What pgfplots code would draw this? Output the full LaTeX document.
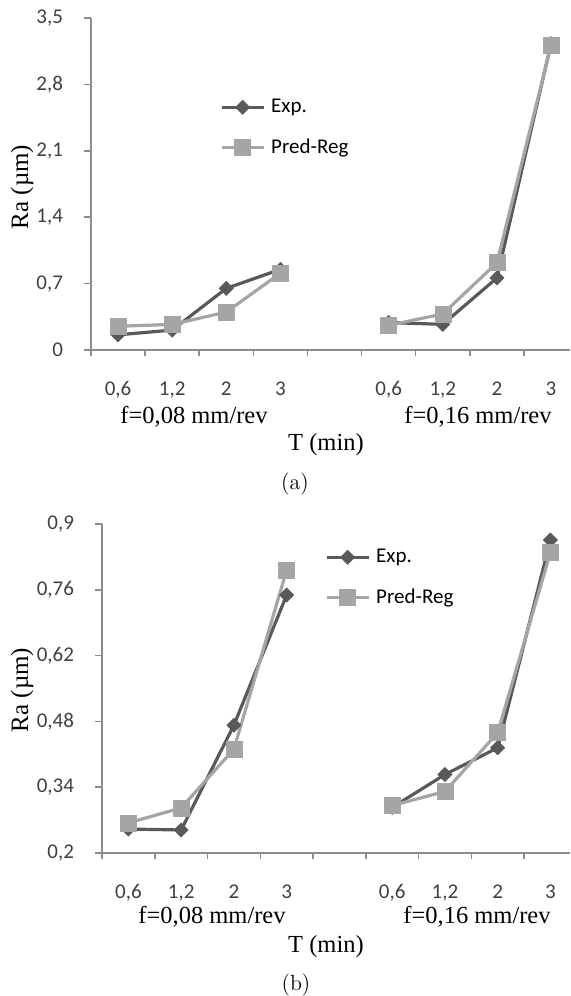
\documentclass[border=0pt]{standalone}
\usepackage{pgfplots}
\pgfplotsset{compat=1.18}
\usepackage{fontspec}
\newfontfamily\carlito{Carlito}
\newfontfamily\tnr{Liberation Serif}
\definecolor{expc}{HTML}{595959}
\definecolor{predc}{HTML}{A5A5A5}
\definecolor{axc}{HTML}{8C8C8C}
\definecolor{tickc}{HTML}{404040}
\pgfplotsset{
  mystyle/.style={
    scale only axis,
    axis lines*=left,
    axis line style={axc, line width=0.75pt, -},
    xmin=0.5,
    xtick={1,2,3,4,6,7,8,9},
    xticklabels={{0,6},{1,2},2,3,{0,6},{1,2},2,3},
    minor xtick={0.5,1.5,2.5,3.5,4.5,5.5,6.5,7.5,8.5},
    major x tick style={draw=none},
    minor x tick style={axc, line width=0.75pt},
    minor tick length=3pt,
    major tick length=3.5pt,
    tick align=outside,
    ytick style={axc, line width=0.75pt},
    ticklabel style={font=\carlito\fontsize{10.5}{12}\selectfont, text=tickc},
    /pgf/number format/assume math mode=true,
    /pgf/number format/use comma,
    /pgf/number format/fixed,
    /pgf/number format/precision=2,
    xticklabel style={anchor=base, yshift=-19pt},
    yticklabel style={anchor=east, xshift=-7pt},
    unbounded coords=jump,
    clip=false,
    legend style={draw=none, fill=none, inner sep=0pt, outer sep=0pt, anchor=north west,
      row sep=11.5pt, column sep=3pt, font=\carlito\fontsize{10.5}{12}\selectfont,
      nodes={inner sep=0pt}},
    legend cell align=left,
    legend image code/.code={\draw[mark repeat=2,mark phase=2,##1] plot coordinates {(0pt,0pt) (10.5pt,0pt) (21pt,0pt)};},
  },
  expst/.style={color=expc, line width=1.6pt, mark=square*, mark size=2.5pt, mark options={solid, rotate=45, fill=expc, line width=0.3pt}},
  predst/.style={color=predc, line width=1.6pt, mark=square*, mark size=4pt, mark options={solid, fill=predc, line width=0.3pt}},
}
\begin{document}
\begin{tikzpicture}
\useasboundingbox (0,0) rectangle (285pt,-498pt);
% (a)
\begin{axis}[mystyle, at={(45.5pt,-175pt)}, anchor=south west,
  width=239.5pt, height=166pt, xmax=9.35,
  ymin=0, ymax=3.5, ytick={0,0.7,1.4,2.1,2.8,3.5},
  legend style={at={(0.2693,0.756)}}]
\addplot[expst] coordinates {(1,0.16) (2,0.21) (3,0.65) (4,0.85) (5,nan) (6,0.29) (7,0.27) (8,0.76) (9,3.23)};
\addlegendentry{Exp.}
\addplot[predst] coordinates {(1,0.25) (2,0.27) (3,0.40) (4,0.81) (5,nan) (6,0.26) (7,0.38) (8,0.92) (9,3.21)};
\addlegendentry{Pred-Reg}
\end{axis}
\node[font=\tnr\fontsize{12.25}{14}\selectfont, anchor=base] at (97pt,-211.5pt) {f=0,08 mm/rev};
\node[font=\tnr\fontsize{12.25}{14}\selectfont, anchor=base] at (239pt,-211.5pt) {f=0,16 mm/rev};
\node[font=\tnr\fontsize{12.25}{14}\selectfont, anchor=base] at (163pt,-225pt) {T (min)};
\node[font=\fontsize{11}{13}\selectfont, anchor=base] at (147.5pt,-244.5pt) {(a)};
\node[font=\tnr\fontsize{12.5}{14}\selectfont, rotate=90] at (11pt,-93.5pt) {Ra (µm)};
% (b)
\begin{axis}[mystyle, at={(51pt,-426.5pt)}, anchor=south west,
  width=234pt, height=164.5pt, xmax=9.37,
  ymin=0.2, ymax=0.9, ytick={0.2,0.34,0.48,0.62,0.76,0.9},
  legend style={at={(0.4765,0.924)}}]
\addplot[expst] coordinates {(1,0.251) (2,0.249) (3,0.472) (4,0.749) (5,nan) (6,0.297) (7,0.367) (8,0.424) (9,0.866)};
\addlegendentry{Exp.}
\addplot[predst] coordinates {(1,0.264) (2,0.296) (3,0.421) (4,0.802) (5,nan) (6,0.301) (7,0.331) (8,0.456) (9,0.840)};
\addlegendentry{Pred-Reg}
\end{axis}
\node[font=\tnr\fontsize{12.25}{14}\selectfont, anchor=base] at (106pt,-461.5pt) {f=0,08 mm/rev};
\node[font=\tnr\fontsize{12.25}{14}\selectfont, anchor=base] at (238.5pt,-461.5pt) {f=0,16 mm/rev};
\node[font=\tnr\fontsize{12.25}{14}\selectfont, anchor=base] at (163pt,-476pt) {T (min)};
\node[font=\fontsize{11}{13}\selectfont, anchor=base] at (148pt,-495pt) {(b)};
\node[font=\tnr\fontsize{12.5}{14}\selectfont, rotate=90] at (11pt,-345pt) {Ra (µm)};
\end{tikzpicture}
\end{document}
